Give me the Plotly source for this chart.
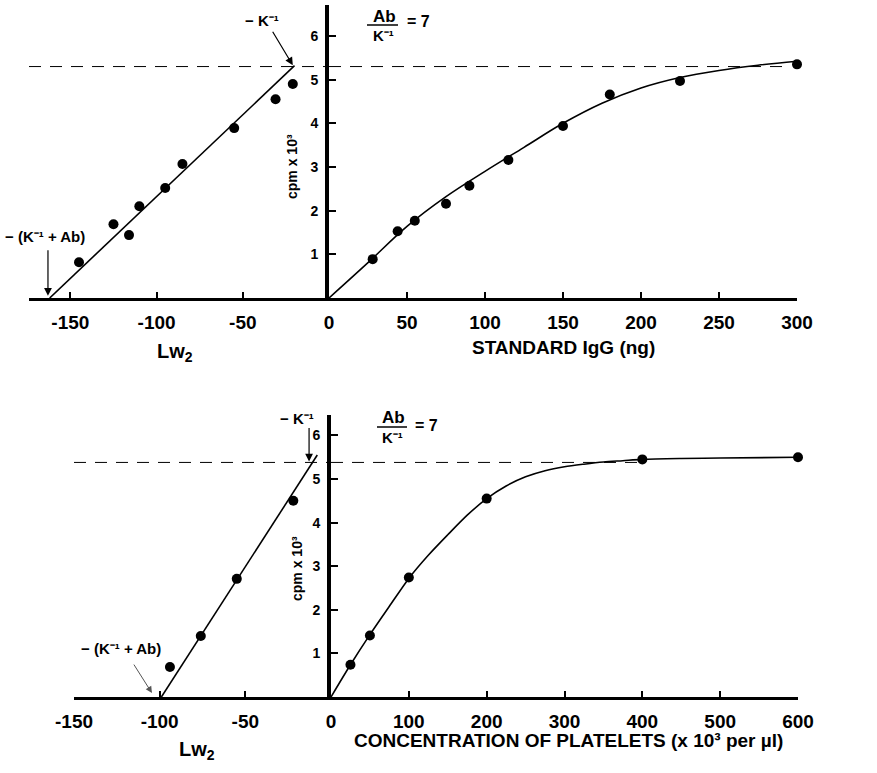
import plotly.graph_objects as go

W, H = 877, 773

# ---------------- data ----------------
# Top panel: standard IgG
top_lw_x = [-145, -125, -116, -110, -95, -85, -55, -31, -21]
top_lw_y = [0.82, 1.69, 1.44, 2.10, 2.52, 3.07, 3.89, 4.55, 4.90]
top_fit_x = [-162, -20]
top_fit_y = [0.0, 5.32]
top_std_x = [28, 44, 55, 75, 90, 115, 150, 180, 225, 300]
top_std_y = [0.89, 1.53, 1.77, 2.16, 2.57, 3.16, 3.94, 4.66, 4.97, 5.35]
top_curve_x = [0, 25, 50, 75, 100, 125, 150, 175, 200, 225, 250, 275, 300]
top_curve_y = [0, 0.81, 1.64, 2.32, 2.90, 3.45, 4.00, 4.46, 4.81, 5.05, 5.21, 5.33, 5.42]
top_plateau = 5.30

# Bottom panel: platelets
bot_lw_x = [-94, -76, -55, -22]
bot_lw_y = [0.69, 1.40, 2.71, 4.50]
bot_fit_x = [-99, -8]
bot_fit_y = [0.0, 5.55]
bot_pl_x = [25, 50, 100, 200, 400, 600]
bot_pl_y = [0.74, 1.41, 2.74, 4.55, 5.45, 5.50]
bot_curve_x = [0, 25, 50, 75, 100, 125, 150, 175, 200, 225, 250, 275, 300,
               325, 350, 375, 400, 450, 500, 600]
bot_curve_y = [0, 0.74, 1.43, 2.08, 2.72, 3.25, 3.72, 4.17, 4.55, 4.84, 5.05, 5.19, 5.28,
               5.34, 5.39, 5.42, 5.45, 5.47, 5.48, 5.50]
bot_plateau = 5.38

top_left_ticks = [-150, -100, -50]
top_right_ticks = [0, 50, 100, 150, 200, 250, 300]
bot_left_ticks = [-150, -100, -50]
bot_right_ticks = [0, 100, 200, 300, 400, 500, 600]
y_ticks = [1, 2, 3, 4, 5, 6]

FONT = "Liberation Sans"


def px(x):
    return x / W


def py(y):
    return 1 - y / H


fig = go.Figure()

line_style = dict(color="black", width=1.6)
marker_style = dict(color="black", size=10)
dash_style = dict(color="black", width=1, dash="12px,9px")

# top panel traces
fig.add_trace(go.Scatter(x=[-174, 0], y=[top_plateau] * 2, mode="lines", line=dash_style, xaxis="x", yaxis="y"))
fig.add_trace(go.Scatter(x=[0, 292], y=[top_plateau] * 2, mode="lines", line=dash_style, xaxis="x2", yaxis="y"))
fig.add_trace(go.Scatter(x=top_fit_x, y=top_fit_y, mode="lines", line=line_style, xaxis="x", yaxis="y"))
fig.add_trace(go.Scatter(x=top_lw_x, y=top_lw_y, mode="markers", marker=marker_style, xaxis="x", yaxis="y", cliponaxis=False))
fig.add_trace(go.Scatter(x=top_curve_x, y=top_curve_y, mode="lines", line=dict(color="black", width=1.6, shape="spline"), xaxis="x2", yaxis="y"))
fig.add_trace(go.Scatter(x=top_std_x, y=top_std_y, mode="markers", marker=marker_style, xaxis="x2", yaxis="y", cliponaxis=False))

# bottom panel traces
fig.add_trace(go.Scatter(x=[-150, 0], y=[bot_plateau] * 2, mode="lines", line=dash_style, xaxis="x3", yaxis="y2"))
fig.add_trace(go.Scatter(x=[0, 395], y=[bot_plateau] * 2, mode="lines", line=dash_style, xaxis="x4", yaxis="y2"))
fig.add_trace(go.Scatter(x=bot_fit_x, y=bot_fit_y, mode="lines", line=line_style, xaxis="x3", yaxis="y2"))
fig.add_trace(go.Scatter(x=bot_lw_x, y=bot_lw_y, mode="markers", marker=marker_style, xaxis="x3", yaxis="y2", cliponaxis=False))
fig.add_trace(go.Scatter(x=bot_curve_x, y=bot_curve_y, mode="lines", line=dict(color="black", width=1.6, shape="spline", smoothing=0.8), xaxis="x4", yaxis="y2"))
fig.add_trace(go.Scatter(x=bot_pl_x, y=bot_pl_y, mode="markers", marker=marker_style, xaxis="x4", yaxis="y2", cliponaxis=False))

tickfont_x = dict(family=FONT, size=19, color="black", weight="bold")
tickfont_y = dict(family=FONT, size=14, color="black", weight="bold")

xcommon = dict(showgrid=False, zeroline=False, showline=True, linecolor="black", linewidth=3,
               ticks="inside", ticklen=6, tickwidth=1.5, tickcolor="black",
               tickfont=tickfont_x, ticklabelstandoff=5, fixedrange=True, automargin=False)
ycommon = dict(showgrid=False, zeroline=False, showline=True, linecolor="black", linewidth=4,
               ticks="inside", ticklen=7, tickwidth=1.5, tickcolor="black",
               tickfont=tickfont_y, tickmode="array", tickvals=y_ticks, side="left",
               ticklabelstandoff=4, fixedrange=True, automargin=False)


def tt(vals):
    return [str(v) for v in vals]


fig.update_layout(
    width=W, height=H,
    margin=dict(l=0, r=0, t=0, b=0, pad=0, autoexpand=False),
    paper_bgcolor="white", plot_bgcolor="rgba(0,0,0,0)",
    showlegend=False,
    font=dict(family=FONT, color="black"),
    xaxis=dict(xcommon, domain=[px(29), px(329)], range=[-174, 0], anchor="y",
               tickmode="array", tickvals=top_left_ticks, ticktext=tt(top_left_ticks)),
    xaxis2=dict(xcommon, domain=[px(329), px(797)], range=[0, 300], anchor="y",
                tickmode="array", tickvals=top_right_ticks, ticktext=tt(top_right_ticks)),
    yaxis=dict(ycommon, domain=[py(298), py(5)], range=[0, 293 / 43.67], anchor="x2"),
    xaxis3=dict(xcommon, domain=[px(74), px(331)], range=[-150, 0], anchor="y2",
                tickmode="array", tickvals=bot_left_ticks, ticktext=tt(bot_left_ticks)),
    xaxis4=dict(xcommon, domain=[px(331), px(798)], range=[0, 600], anchor="y2",
                tickmode="array", tickvals=bot_right_ticks, ticktext=tt(bot_right_ticks)),
    yaxis2=dict(ycommon, domain=[py(697), py(415)], range=[0, 282 / 43.6], anchor="x4"),
)

ann = []


def text(x, y, s, size=15, angle=0):
    ann.append(dict(x=px(x), y=py(y), xref="paper", yref="paper", text=s, showarrow=False,
                    font=dict(family=FONT, size=size, color="black", weight="bold"),
                    textangle=angle, xanchor="center", yanchor="middle"))


def arrow(xd, yd, xr, yr, ax, ay, color="black", width=1.2):
    ann.append(dict(x=xd, y=yd, xref=xr, yref=yr, text="", showarrow=True, ax=ax, ay=ay,
                    axref="pixel", ayref="pixel", arrowhead=2, arrowsize=1.3,
                    arrowwidth=width, arrowcolor=color))


# top panel texts
text(262, 20, "− K⁻¹", 15)
arrow(top_fit_x[1] - 1, top_plateau + 0.03, "x", "y", -21, -35)
text(45, 237, "− (K⁻¹ + Ab)", 15)
arrow(top_fit_x[0] - 1, 0.05, "x", "y", 0, -47)
text(384, 16, "Ab", 17)
text(383, 35, "K⁻¹", 15)
text(418, 21, "= 7", 16)
text(292, 167, "cpm x 10³", 14, angle=-90)
text(175, 352, "Lw<sub>2</sub>", 20)
text(563, 347, "STANDARD IgG (ng)", 19)

# bottom panel texts
text(297, 418, "− K⁻¹", 15)
arrow(-12.8, bot_plateau + 0.02, "x3", "y2", 0, -35)
text(121, 648, "− (K⁻¹ + Ab)", 15)
arrow(-104.5, 0.09, "x3", "y2", -19, -30, color="#555", width=1)
text(393, 417, "Ab", 17)
text(392, 437, "K⁻¹", 15)
text(426, 425, "= 7", 16)
text(297, 569, "cpm x 10³", 14, angle=-90)
text(197, 750, "Lw<sub>2</sub>", 20)
text(568, 740, "CONCENTRATION OF PLATELETS (x 10³ per µl)", 19)

fig.update_layout(annotations=ann, shapes=[
    dict(type="line", xref="paper", yref="paper", x0=px(367), x1=px(398), y0=py(25), y1=py(25),
         line=dict(color="black", width=1.5)),
    dict(type="line", xref="paper", yref="paper", x0=px(377), x1=px(407), y0=py(427), y1=py(427),
         line=dict(color="black", width=1.5)),
])

fig.write_html("out.html", config={"displayModeBar": False},
               post_script="document.body.style.margin='0';document.body.style.overflow='hidden';")
